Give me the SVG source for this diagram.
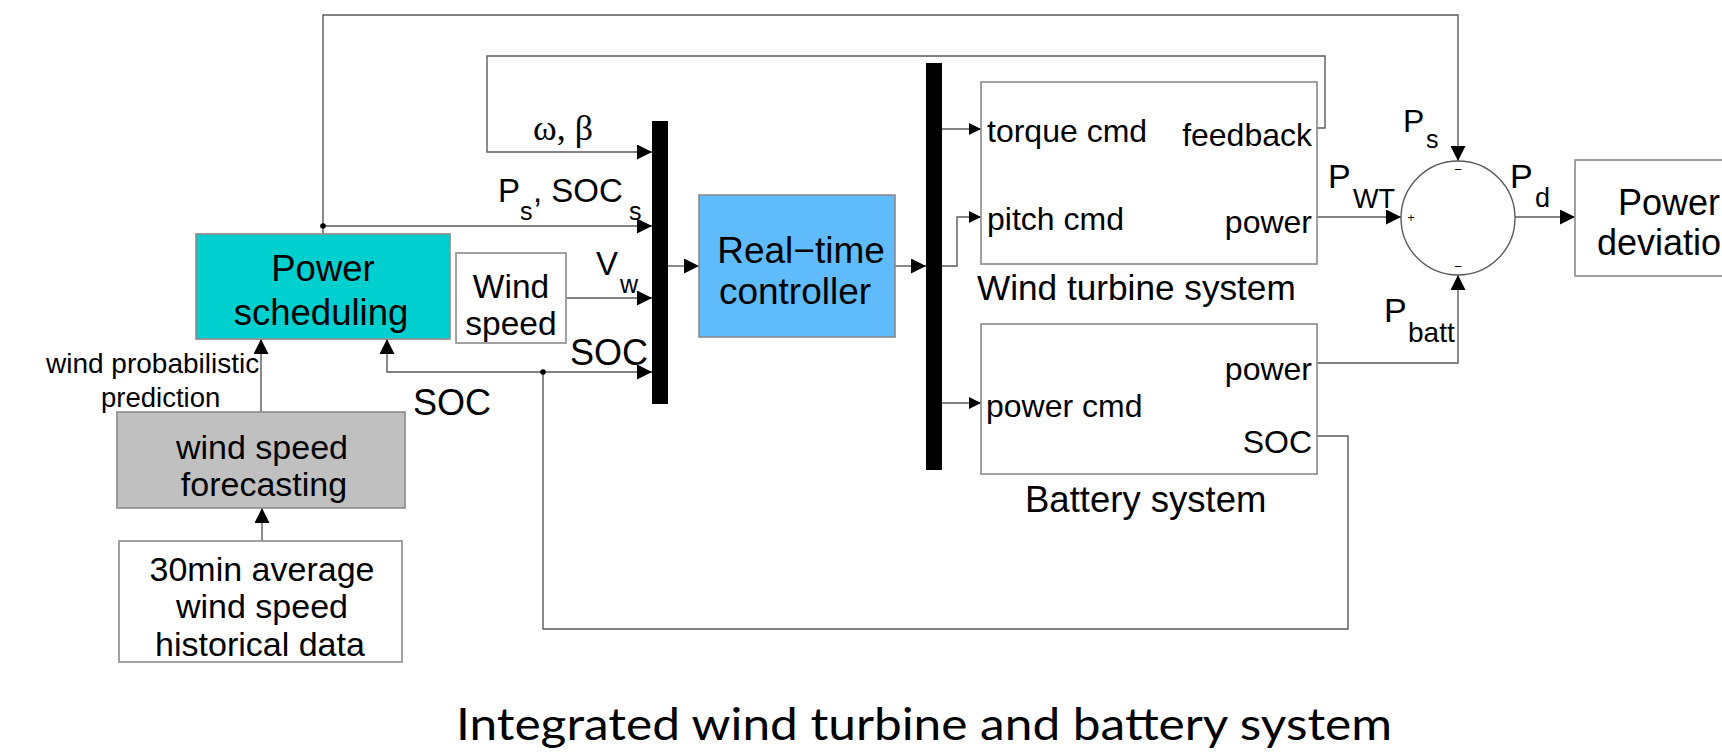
<svg xmlns="http://www.w3.org/2000/svg" width="1722" height="752" viewBox="0 0 1722 752">
<style>
.t{font-family:"Liberation Sans",Arial,sans-serif;fill:#000}
.box{stroke:#8a8a8a;stroke-width:1.6}
.ln{fill:none;stroke:#5a5a5a;stroke-width:1.4}
.bus{fill:#000}
.m{text-anchor:middle}
.e{text-anchor:end}
</style>
<defs>
<marker id="a" markerUnits="userSpaceOnUse" markerWidth="15" markerHeight="15" refX="15" refY="7.5" orient="auto"><path d="M0,0 L15,7.5 L0,15 z" fill="#000"/></marker>
<marker id="s" markerUnits="userSpaceOnUse" markerWidth="12" markerHeight="12" refX="12" refY="6" orient="auto"><path d="M0,0 L12,6 L0,12 z" fill="#000"/></marker>
</defs>
<rect width="1722" height="752" fill="#fff"/>

<g id="connectors">
<path class="ln" d="M323,234 V15 H1458 V161" marker-end="url(#a)"/>
<path class="ln" d="M323,226 H652" marker-end="url(#a)"/>
<circle cx="323" cy="226" r="2.8" fill="#000"/>
<path class="ln" d="M1317,128 H1325 V56 H487 V152 H652" marker-end="url(#a)"/>
<path class="ln" d="M566,298 H652" marker-end="url(#a)"/>
<path class="ln" d="M1317,436 H1348 V629 H543 V372 H652" marker-end="url(#a)"/>
<path class="ln" d="M543,372 H387 V339" marker-end="url(#a)"/>
<circle cx="543" cy="372" r="2.8" fill="#000"/>
<path class="ln" d="M261,412 V339" marker-end="url(#a)"/>
<path class="ln" d="M262,541 V508" marker-end="url(#a)"/>
<path class="ln" d="M668,266 H699" marker-end="url(#a)"/>
<path class="ln" d="M895,266 H926" marker-end="url(#a)"/>
<path class="ln" d="M942,129 H981" marker-end="url(#s)"/>
<path class="ln" d="M942,266 H957 V217 H981" marker-end="url(#s)"/>
<path class="ln" d="M942,403 H981" marker-end="url(#s)"/>
<path class="ln" d="M1317,217 H1401" marker-end="url(#a)"/>
<path class="ln" d="M1317,363 H1458 V275" marker-end="url(#a)"/>
<path class="ln" d="M1515,217 H1575" marker-end="url(#a)"/>
</g>

<g id="power-scheduling">
<rect class="box" x="196" y="234" width="254" height="105" fill="#00cfd0"/>
<text class="t m" x="323" y="281" font-size="36.5">Power</text>
<text class="t m" x="321" y="325" font-size="36.5">scheduling</text>
</g>

<g id="wind-speed">
<rect class="box" x="456" y="253" width="110" height="90" fill="#fff"/>
<text class="t m" x="511" y="298" font-size="33.5">Wind</text>
<text class="t m" x="511" y="335" font-size="33.5">speed</text>
</g>

<g id="forecasting">
<rect class="box" x="117" y="412" width="288" height="96" fill="#c0c0c0"/>
<text class="t m" x="262" y="459" font-size="34">wind speed</text>
<text class="t m" x="264" y="496" font-size="34">forecasting</text>
</g>

<g id="historical-data">
<rect class="box" x="119" y="541" width="283" height="121" fill="#fff"/>
<text class="t m" x="262" y="581" font-size="34">30min average</text>
<text class="t m" x="262" y="618" font-size="34">wind speed</text>
<text class="t m" x="260" y="656" font-size="34">historical data</text>
</g>

<g id="bus-in">
<rect class="bus" x="652" y="121" width="16" height="283"/>
</g>

<g id="controller">
<rect class="box" x="699" y="195" width="196" height="142" fill="#5fbbfa"/>
<text class="t m" x="801" y="263" font-size="37">Real−time</text>
<text class="t m" x="795" y="304" font-size="37">controller</text>
</g>

<g id="bus-out">
<rect class="bus" x="926" y="63" width="16" height="407"/>
</g>

<g id="wind-turbine">
<rect class="box" x="981" y="82" width="336" height="182" fill="none"/>
<text class="t" x="987" y="142" font-size="32">torque cmd</text>
<text class="t e" x="1312" y="146" font-size="32">feedback</text>
<text class="t" x="987" y="230" font-size="32">pitch cmd</text>
<text class="t e" x="1312" y="233" font-size="32">power</text>
<text class="t" x="977" y="300" font-size="35.2">Wind turbine system</text>
</g>

<g id="battery">
<rect class="box" x="981" y="324" width="336" height="150" fill="none"/>
<text class="t e" x="1312" y="380" font-size="32">power</text>
<text class="t" x="986" y="417" font-size="32">power cmd</text>
<text class="t e" x="1312" y="453" font-size="32">SOC</text>
<text class="t" x="1025" y="512" font-size="36.5">Battery system</text>
</g>

<g id="sum">
<circle cx="1458" cy="218" r="57" fill="none" stroke="#5a5a5a" stroke-width="1.4"/>
<text class="t m" x="1411" y="222" font-size="12">+</text>
<text class="t m" x="1458" y="174" font-size="13">−</text>
<text class="t m" x="1458" y="271" font-size="13">−</text>
</g>

<g id="power-deviation">
<rect class="box" x="1575" y="160" width="200" height="116" fill="#fff"/>
<text class="t m" x="1669" y="215" font-size="36">Power</text>
<text class="t m" x="1669" y="255" font-size="36">deviation</text>
</g>

<g id="labels">
<text class="t" x="46" y="373" font-size="28">wind probabilistic</text>
<text class="t" x="101" y="407" font-size="27.5">prediction</text>
<text class="t" x="413" y="415" font-size="36">SOC</text>
<text x="533" y="140" font-size="36" font-family="Liberation Serif,DejaVu Serif,serif">ω, β</text>
<text class="t" x="498" y="202" font-size="33">P</text>
<text class="t" x="520" y="220" font-size="25">s</text>
<text class="t" x="533" y="202" font-size="33">, SOC</text>
<text class="t" x="629" y="220" font-size="25">s</text>
<text class="t" x="596" y="275" font-size="33">V</text>
<text class="t" x="620" y="293" font-size="25">w</text>
<text class="t" x="570" y="365" font-size="36">SOC</text>
<text class="t" x="1403" y="132" font-size="32">P</text>
<text class="t" x="1426" y="148" font-size="25">s</text>
<text class="t" x="1328" y="188" font-size="34">P</text>
<text class="t" x="1353" y="208" font-size="27">WT</text>
<text class="t" x="1510" y="188" font-size="34">P</text>
<text class="t" x="1535" y="207" font-size="27">d</text>
<text class="t" x="1384" y="322" font-size="34">P</text>
<text class="t" x="1408" y="342" font-size="28">batt</text>
</g>

<text x="456" y="740" font-size="45" font-family="Lato,Carlito,'Open Sans',sans-serif" textLength="936" lengthAdjust="spacingAndGlyphs">Integrated wind turbine and battery system</text>
</svg>
